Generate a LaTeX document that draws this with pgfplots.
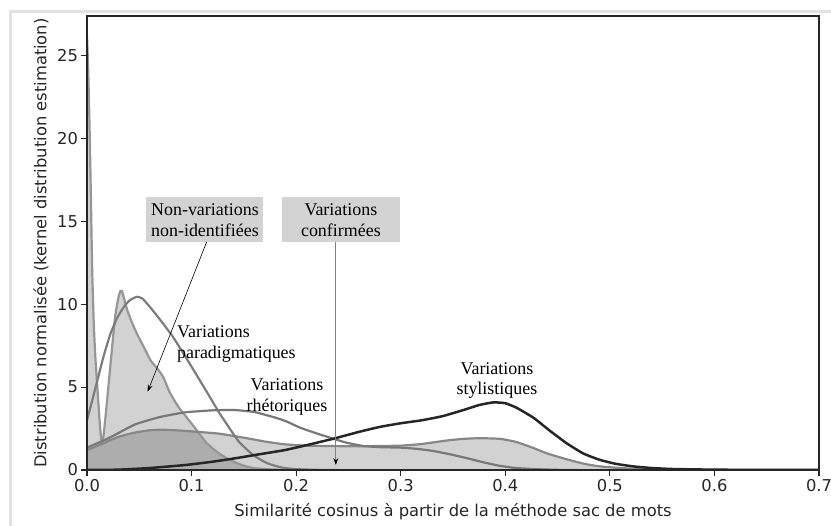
\documentclass[border=0pt]{standalone}
\usepackage{fontspec}
\setmainfont{DejaVu Sans}
\newfontfamily\annfont{Liberation Serif}
\usepackage{pgfplots}
\usepackage{pgfplotstable}
\pgfplotsset{compat=1.18}
\usetikzlibrary{arrows.meta}
\definecolor{boxgray}{RGB}{211,211,211}
\definecolor{frame}{RGB}{226,226,226}
\definecolor{lineA}{RGB}{150,150,150}
\definecolor{lineP}{RGB}{125,125,125}
\definecolor{lineB}{RGB}{135,135,135}
\definecolor{lineC}{RGB}{120,120,120}
\definecolor{lineD}{RGB}{38,38,38}

% Non-variations non-identifiees
\pgfplotstableread{
x y
0 26.2
0.001 24.5
0.002 22.0
0.003 19.0
0.004 15.5
0.005 12.0
0.0065 8.8
0.008 6.8
0.0099 5.0
0.012 3.0
0.0135 1.9
0.0146 1.6
0.016 2.2
0.018 3.4
0.021 5.4
0.024 7.4
0.027 9.3
0.030 10.4
0.032 10.8
0.0335 10.8
0.035 10.45
0.0385 9.65
0.043 8.9
0.048 8.2
0.0545 7.4
0.061 6.6
0.067 6.15
0.073 5.6
0.079 4.7
0.087 3.85
0.095 3.2
0.105 2.4
0.114 1.65
0.125 1.05
0.137 0.6
0.148 0.3
0.159 0.12
0.175 0.04
0.19 0.01
0.2 0
}\tA

% Variations paradigmatiques
\pgfplotstableread{
x y
0 3.0
0.005 4.2
0.0099 5.4
0.016 6.9
0.0226 8.25
0.029 9.2
0.0354 9.86
0.041 10.25
0.0475 10.45
0.053 10.35
0.062 9.7
0.072 8.9
0.082 8.05
0.095 6.75
0.108 5.4
0.118 4.35
0.127 3.4
0.137 2.45
0.146 1.65
0.159 0.9
0.172 0.42
0.186 0.15
0.2 0.05
0.22 0.01
0.24 0
}\tP

% Variations confirmees
\pgfplotstableread{
x y
0 1.2
0.015 1.6
0.030 2.0
0.045 2.25
0.06 2.4
0.0714 2.43
0.085 2.4
0.1 2.33
0.1255 2.2
0.15 1.95
0.17 1.72
0.189 1.55
0.21 1.47
0.24 1.44
0.27 1.44
0.30 1.47
0.32 1.57
0.344 1.78
0.36 1.88
0.376 1.92
0.395 1.88
0.41 1.7
0.426 1.35
0.44 1.0
0.4585 0.65
0.475 0.38
0.49 0.22
0.51 0.12
0.525 0.07
0.557 0.03
0.6 0.005
0.7 0
}\tB

% Variations rhetoriques
\pgfplotstableread{
x y
0 1.35
0.02 1.9
0.046 2.75
0.07 3.2
0.094 3.48
0.12 3.6
0.141 3.62
0.16 3.5
0.178 3.2
0.19 2.95
0.204 2.55
0.22 2.2
0.235 1.9
0.248 1.65
0.264 1.45
0.28 1.38
0.3 1.35
0.315 1.28
0.331 1.15
0.347 0.95
0.363 0.72
0.38 0.45
0.395 0.25
0.41 0.12
0.43 0.05
0.45 0.01
0.47 0
}\tC

% Variations stylistiques
\pgfplotstableread{
x y
0 0
0.03 0.02
0.06 0.12
0.094 0.3
0.12 0.5
0.141 0.7
0.165 0.95
0.189 1.2
0.21 1.5
0.237 1.91
0.26 2.3
0.28 2.6
0.30 2.82
0.32 3.0
0.34 3.25
0.36 3.62
0.375 3.92
0.3885 4.08
0.40 4.03
0.411 3.75
0.427 3.15
0.443 2.35
0.4585 1.62
0.4745 1.0
0.49 0.62
0.505 0.38
0.522 0.22
0.54 0.12
0.56 0.06
0.6 0.02
0.65 0.005
0.7 0
}\tD

\begin{document}
\begin{tikzpicture}
\useasboundingbox (0,0) rectangle (831bp,526bp);
\draw[frame, line width=3bp] (10bp,0) -- (10bp,514bp) -- (831bp,514bp);
\begin{axis}[
  at={(87bp,56bp)}, anchor=south west,
  scale only axis, width=732bp, height=454bp,
  xmin=0, xmax=0.7, ymin=0, ymax=27.4,
  xtick={0,0.1,0.2,0.3,0.4,0.5,0.6,0.7},
  ytick={0,5,10,15,20,25},
  xtick pos=left, ytick pos=left,
  tick align=outside, major tick length=5.5bp,
  tick style={line width=1.1bp, black!85},
  axis line style={line width=1.2bp, black!85},
  xticklabel={\pgfmathprintnumber[fixed,fixed zerofill,precision=1,assume math mode=true]{\tick}},
  yticklabel={\pgfmathprintnumber[assume math mode=true]{\tick}},
  ticklabel style={font=\fontsize{16.4}{19}\selectfont, text=black!85},
  xlabel={Similarité cosinus à partir de la méthode sac de mots},
  ylabel={Distribution normalisée (kernel distribution estimation)},
  label style={font=\fontsize{16.4}{19}\selectfont, text=black!85},
  xlabel style={at={(axis description cs:0.5,-0.0925)}, anchor=center},
  ylabel style={at={(axis description cs:-0.0628,0.5)}, anchor=center},
  axis on top,
  clip=true,
]
% fills
\addplot[draw=none, fill=black, fill opacity=0.175, smooth, tension=0.3] table {\tA} \closedcycle;
\addplot[draw=none, fill=black, fill opacity=0.175, smooth, tension=0.3] table {\tB} \closedcycle;
% lines
\addplot[lineA, line width=2.2bp, smooth, tension=0.3] table {\tA};
\addplot[lineB, line width=2.2bp, smooth, tension=0.3] table {\tB};
\addplot[lineP, line width=2.2bp, smooth, tension=0.3] table {\tP};
\addplot[lineC, line width=2.2bp, smooth, tension=0.3] table {\tC};
\addplot[lineD, line width=2.5bp, smooth, tension=0.3] table {\tD};

% annotations
\node[fill=boxgray, minimum width=117bp, minimum height=45bp, inner sep=0pt, align=center,
      font=\annfont\fontsize{18}{20.5}\selectfont]
  at (axis cs:0.1128,15.09) {Non-variations\\non-identifiées};
\node[fill=boxgray, minimum width=118bp, minimum height=45bp, inner sep=0pt, align=center,
      font=\annfont\fontsize{18}{20.5}\selectfont]
  at (axis cs:0.2428,15.09) {Variations\\confirmées};
\node[anchor=west, inner sep=0pt, align=left, font=\annfont\fontsize{18}{20.5}\selectfont]
  at (axis cs:0.086,7.6) {Variations\\paradigmatiques};
\node[inner sep=0pt, align=center, font=\annfont\fontsize{18}{20.5}\selectfont]
  at (axis cs:0.1912,4.42) {Variations\\rhétoriques};
\node[inner sep=0pt, align=center, font=\annfont\fontsize{18}{20.5}\selectfont]
  at (axis cs:0.392,5.41) {Variations\\stylistiques};
\draw[black, line width=0.6bp, -{Stealth[length=7bp,width=5bp]}]
  (axis cs:0.1144,13.76) -- (axis cs:0.058,4.73);
\draw[gray, line width=0.9bp, -{Stealth[length=7bp,width=5bp,color=black]}]
  (axis cs:0.238,13.76) -- (axis cs:0.238,0.3);
\end{axis}
\end{tikzpicture}
\end{document}
